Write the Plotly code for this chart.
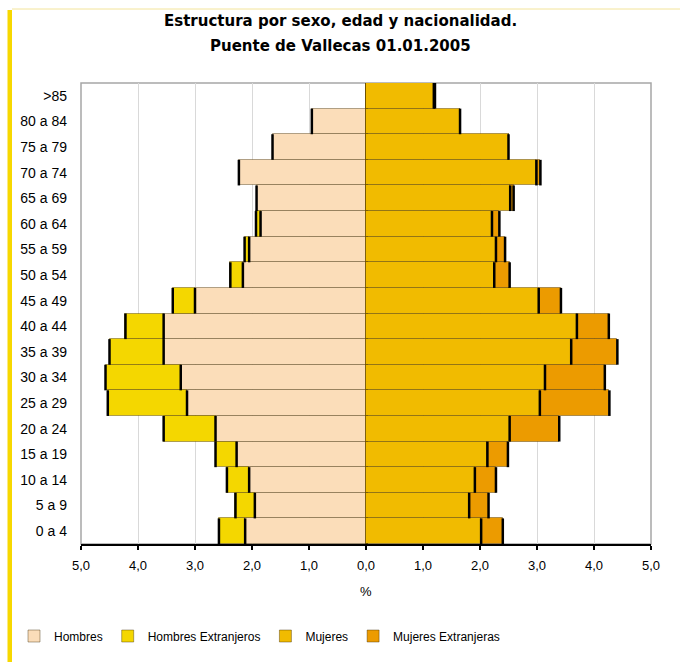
import plotly.graph_objects as go

# ---------------- data (bottom to top) ----------------
age_groups = ["0 a 4", "5 a 9", "10 a 14", "15 a 19", "20 a 24", "25 a 29",
              "30 a 34", "35 a 39", "40 a 44", "45 a 49", "50 a 54", "55 a 59",
              "60 a 64", "65 a 69", "70 a 74", "75 a 79", "80 a 84", ">85"]
hombres = [2.12, 1.95, 2.05, 2.27, 2.64, 3.14, 3.25, 3.55, 3.55, 3.00,
           2.16, 2.05, 1.85, 1.92, 2.23, 1.64, 0.95, 0.00]
hombres_ext = [0.46, 0.34, 0.39, 0.37, 0.91, 1.39, 1.32, 0.95, 0.67, 0.39,
               0.22, 0.08, 0.08, 0.00, 0.00, 0.00, 0.00, 0.00]
mujeres = [2.02, 1.81, 1.91, 2.13, 2.52, 3.05, 3.14, 3.60, 3.70, 3.03,
           2.25, 2.28, 2.21, 2.53, 2.99, 2.50, 1.65, 1.19]
mujeres_ext = [0.38, 0.34, 0.37, 0.36, 0.87, 1.22, 1.05, 0.81, 0.56, 0.39,
               0.27, 0.16, 0.13, 0.06, 0.07, 0.00, 0.00, 0.02]
x_tick_vals = [-5, -4, -3, -2, -1, 0, 1, 2, 3, 4, 5]
x_tick_text = ["5,0", "4,0", "3,0", "2,0", "1,0", "0,0", "1,0", "2,0", "3,0", "4,0", "5,0"]

FONT = "Liberation Sans, Arial, sans-serif"
TFONT = "DejaVu Sans, Liberation Sans, sans-serif"
ypos = list(range(len(age_groups)))

# plot area geometry (pixels) used to place decorations
W, H = 680, 662
L, R, T, B = 81, 29, 83, 118
pw, ph = W - L - R, H - T - B
def px(xpix):
    return (xpix - L) / pw
def py(ypix):
    return (H - B - ypix) / ph

fig = go.Figure()
sep = dict(color="rgba(60,40,0,0.40)", width=1)
fig.add_trace(go.Bar(name="Hombres", y=ypos, x=[-v for v in hombres], orientation="h",
                     width=1, marker=dict(color="#FBDDB9", line=sep)))
fig.add_trace(go.Bar(name="Hombres Extranjeros", y=ypos, x=[-v for v in hombres_ext], orientation="h",
                     width=1, marker=dict(color="#F4D700", line=sep)))
fig.add_trace(go.Bar(name="Mujeres", y=ypos, x=mujeres, orientation="h",
                     width=1, marker=dict(color="#F1BB00", line=sep)))
fig.add_trace(go.Bar(name="Mujeres Extranjeras", y=ypos, x=mujeres_ext, orientation="h",
                     width=1, marker=dict(color="#EC9B00", line=sep)))

# thick dark vertical ends of the bars (derived from the data)
ex, ey = [], []
for i in ypos:
    ends = []
    if hombres[i] > 0:
        ends.append(-hombres[i])
    if hombres_ext[i] > 0:
        ends.append(-(hombres[i] + hombres_ext[i]))
    if mujeres[i] > 0:
        ends.append(mujeres[i])
    if mujeres_ext[i] > 0:
        ends.append(mujeres[i] + mujeres_ext[i])
    for e in ends:
        ex += [e, e, None]
        ey += [i - 0.5, i + 0.5, None]
fig.add_trace(go.Scatter(x=ex, y=ey, mode="lines", line=dict(color="#000000", width=2.5),
                         showlegend=False, hoverinfo="skip"))

shapes = [
    # plot border (grey)
    dict(type="rect", xref="paper", yref="paper", x0=0, x1=1, y0=0, y1=1,
         line=dict(color="#A6A6A6", width=1.5), layer="below"),
    # yellow left band of the page
    dict(type="rect", xref="paper", yref="paper", x0=px(7.5), x1=px(12), y0=py(10), y1=py(662),
         line=dict(width=0), fillcolor="#F7D800"),
    # thin top line of the page
    dict(type="line", xref="paper", yref="paper", x0=px(12), x1=px(680), y0=py(9), y1=py(9),
         line=dict(color="#F3E49A", width=1)),
]

annotations = [
    dict(text="Estructura por sexo, edad y nacionalidad.", xref="paper", yref="paper",
         x=px(340), y=py(21), showarrow=False, xanchor="center", yanchor="middle",
         font=dict(family=TFONT, size=15, color="#000000", weight="bold")),
    dict(text="Puente de Vallecas 01.01.2005", xref="paper", yref="paper",
         x=px(340), y=py(46), showarrow=False, xanchor="center", yanchor="middle",
         font=dict(family=TFONT, size=15, color="#000000", weight="bold")),
    dict(text="%", xref="x", yref="paper", x=0, y=py(591), showarrow=False,
         xanchor="center", yanchor="middle", font=dict(family=FONT, size=13, color="#000000")),
]

fig.update_layout(
    width=W, height=H,
    barmode="relative", bargap=0,
    paper_bgcolor="white", plot_bgcolor="white",
    margin=dict(l=L, r=R, t=T, b=B, autoexpand=False),
    font=dict(family=FONT, size=13, color="#000000"),
    shapes=shapes, annotations=annotations,
    legend=dict(orientation="h", x=px(14), y=py(636), xanchor="left", yanchor="middle",
                font=dict(family=FONT, size=12, color="#000000"), itemwidth=30,
                traceorder="normal", bgcolor="rgba(0,0,0,0)"),
    showlegend=True,
)
fig.update_xaxes(range=[-5, 5], tickvals=x_tick_vals, ticktext=x_tick_text,
                 showgrid=True, gridcolor="#D9D9D9", gridwidth=1,
                 zeroline=True, zerolinecolor="#000000", zerolinewidth=2.5,
                 showline=True, linecolor="#000000", linewidth=1.5,
                 ticks="outside", ticklen=4, tickcolor="#000000", tickwidth=1.5,
                 ticklabelstandoff=5,
                 tickfont=dict(family=FONT, size=13, color="#000000"), fixedrange=True)
fig.update_yaxes(range=[-0.5, len(age_groups) - 0.5], tickvals=ypos, ticktext=age_groups,
                 showgrid=False, zeroline=False, showline=False, ticks="",
                 ticklabelstandoff=13,
                 tickfont=dict(family=FONT, size=14, color="#000000"), fixedrange=True)

fig.write_html("out.html", config={"displayModeBar": False},
               post_script="document.body.style.margin='0px';")
